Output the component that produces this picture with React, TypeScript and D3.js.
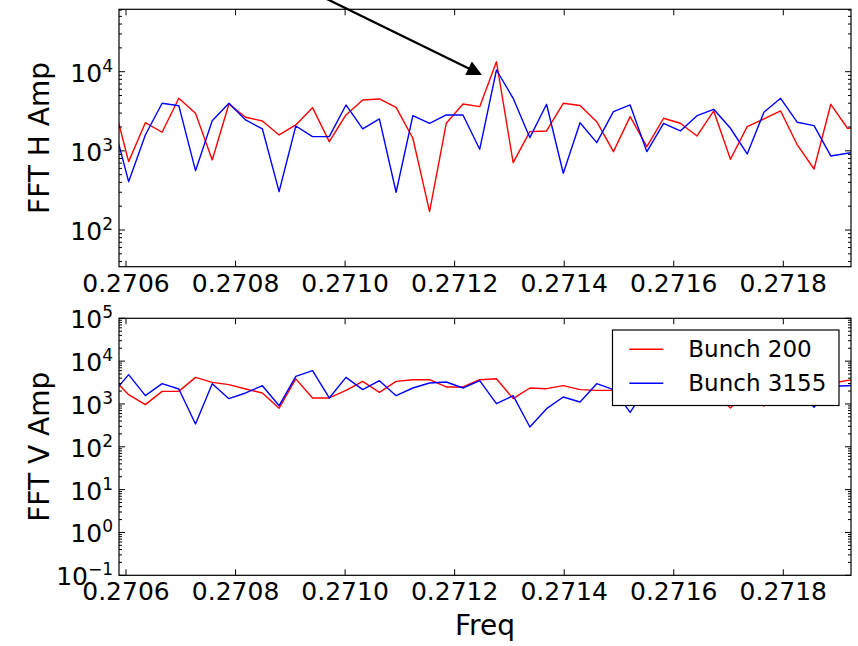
import React, { useEffect, useRef } from 'react';
import * as d3 from 'd3';

// FFT bins (tune units)
const freq = [
  0.2705743, 0.2706048, 0.2706353, 0.2706659, 0.2706964, 0.2707269, 0.2707574, 0.2707879,
  0.2708184, 0.270849, 0.2708795, 0.27091, 0.2709405, 0.2709711, 0.2710016, 0.2710321,
  0.2710626, 0.2710931, 0.2711237, 0.2711542, 0.2711847, 0.2712152, 0.2712457, 0.2712763,
  0.2713068, 0.2713373, 0.2713678, 0.2713983, 0.2714289, 0.2714594, 0.2714899, 0.2715204,
  0.2715509, 0.2715815, 0.271612, 0.2716425, 0.271673, 0.2717035, 0.2717341, 0.2717646,
  0.2717951, 0.2718256, 0.2718561, 0.2718867, 0.2719172, 0.2719477,
];

const hAmp200 = [
  4800, 731, 2270, 1718, 4615, 2985, 768, 3910, 2656, 2386, 1588, 2123, 3512, 1307, 2840, 4395,
  4520, 3550, 1442, 171, 2230, 3910, 3614, 13370, 710, 1747, 1783, 3990, 3744, 2337, 977, 2703,
  1130, 2580, 2230, 1542, 3190, 783, 2020, 2530, 3190, 1187, 590, 3875, 1930, 1900,
];
const hAmp3155 = [
  2600, 408, 1588, 3990, 3720, 562, 2405, 3990, 2455, 1890, 305, 2062, 1511, 1511, 3800, 1890,
  2530, 300, 2783, 2230, 2840, 2840, 1047, 10500, 4615, 1468, 3875, 521, 2263, 1270, 3126, 3800,
  977, 2230, 1783, 2783, 3350, 1930, 914, 3070, 4615, 2296, 2080, 862, 933, 1000,
];
const vAmp200 = [
  4110, 1650, 963, 1967, 1967, 4180, 3190, 2820, 2240, 1806, 798, 3855, 1380, 1380, 2075, 3365,
  1866, 3365, 3690, 3690, 2494, 2494, 3690, 3890, 1330, 2360, 2275, 2673, 2158, 2075, 2075, 2200,
  2100, 2000, 2300, 2100, 1900, 800, 2000, 890, 2400, 2600, 2800, 3000, 3556, 3700,
];
const vAmp3155 = [
  1675, 4830, 1563, 2980, 2240, 341, 2980, 1330, 1806, 2673, 912, 4405, 5985, 1380, 4180, 2158,
  3500, 1563, 2360, 3090, 3260, 2360, 3500, 1016, 1563, 290, 777, 1456, 1113, 2980, 2158, 637,
  2500, 2200, 2800, 2600, 2300, 2100, 2700, 2400, 2200, 2500, 840, 2600, 2673, 2800,
];

const xTickValues = [0.2706, 0.2708, 0.271, 0.2712, 0.2714, 0.2716, 0.2718];
const xTickLabels = ['0.2706', '0.2708', '0.2710', '0.2712', '0.2714', '0.2716', '0.2718'];
const hExponents = [2, 3, 4];
const vExponents = [-1, 0, 1, 2, 3, 4, 5];
const seriesNames = ['Bunch 200', 'Bunch 3155'];
const seriesColors = ['#ff0000', '#0000ff'];
const peakFreq = 0.27125;
const peakAmp = 9100;

const W = 858;
const H = 646;
const FONT = 'DejaVu Sans';
const left = 119;
const right = 851;

const App = () => {
  const svgRef = useRef<SVGSVGElement>(null);

  useEffect(() => {
    const svg = d3.select(svgRef.current);
    svg.selectAll('*').remove();

    const x = d3.scaleLinear().domain([0.2705872, 0.2719236]).range([left, right]);

    const drawPanel = (id: string, top: number, bottom: number, yScale: any, exps: number[], ylabel: string, series: number[][]) => {
      const g = svg.append('g');
      svg.append('defs').append('clipPath').attr('id', id)
        .append('rect').attr('x', left).attr('y', top).attr('width', right - left).attr('height', bottom - top);

      const line = d3.line<number>()
        .x((d, i) => x(freq[i]))
        .y((d) => yScale(d));

      series.forEach((s, k) => {
        g.append('path')
          .attr('d', line(s))
          .attr('fill', 'none')
          .attr('stroke', seriesColors[k])
          .attr('stroke-width', 1.4)
          .attr('stroke-linejoin', 'round')
          .attr('clip-path', `url(#${id})`);
      });

      // x ticks, inward on bottom and top
      xTickValues.forEach((v, i) => {
        const px = x(v);
        g.append('line').attr('x1', px).attr('x2', px).attr('y1', bottom).attr('y2', bottom - 6).attr('stroke', '#000');
        g.append('line').attr('x1', px).attr('x2', px).attr('y1', top).attr('y2', top + 6).attr('stroke', '#000');
        g.append('text')
          .attr('x', px).attr('y', bottom + 25)
          .attr('text-anchor', 'middle')
          .attr('font-family', FONT).attr('font-size', 25)
          .attr('fill', '#000')
          .text(xTickLabels[i]);
      });

      // y minor ticks (log)
      const [d0, d1] = yScale.domain();
      for (let e = Math.floor(Math.log10(d0)); e <= Math.ceil(Math.log10(d1)); e++) {
        for (let m = 2; m <= 9; m++) {
          const v = m * Math.pow(10, e);
          if (v < d0 || v > d1) continue;
          const py = yScale(v);
          g.append('line').attr('x1', left).attr('x2', left + 3).attr('y1', py).attr('y2', py).attr('stroke', '#000');
          g.append('line').attr('x1', right).attr('x2', right - 3).attr('y1', py).attr('y2', py).attr('stroke', '#000');
        }
      }

      // y major ticks + labels
      exps.forEach((e) => {
        const py = yScale(Math.pow(10, e));
        g.append('line').attr('x1', left).attr('x2', left + 6).attr('y1', py).attr('y2', py).attr('stroke', '#000');
        g.append('line').attr('x1', right).attr('x2', right - 6).attr('y1', py).attr('y2', py).attr('stroke', '#000');
        const t = g.append('text')
          .attr('x', left - 6).attr('y', py + 10)
          .attr('text-anchor', 'end')
          .attr('font-family', FONT).attr('font-size', 25)
          .attr('fill', '#000');
        t.append('tspan').text('10');
        t.append('tspan').attr('dy', -10).attr('font-size', 17).text(e < 0 ? `\u2212${-e}` : `${e}`);
      });

      // spines
      g.append('rect')
        .attr('x', left).attr('y', top)
        .attr('width', right - left).attr('height', bottom - top)
        .attr('fill', 'none').attr('stroke', '#000').attr('stroke-width', 1.2);

      g.append('text')
        .attr('transform', `translate(49,${(top + bottom) / 2}) rotate(-90)`)
        .attr('text-anchor', 'middle')
        .attr('font-family', FONT).attr('font-size', 28)
        .attr('fill', '#000')
        .text(ylabel);

      return g;
    };

    const yTop = d3.scaleLog().domain([34.4, 61400]).range([266.7, 9.3]);
    const yBot = d3.scaleLog().domain([0.1, 1e5]).range([575.3, 318.3]);

    drawPanel('clipH', 9.3, 266.7, yTop, hExponents, 'FFT H Amp', [hAmp200, hAmp3155]);
    const gb = drawPanel('clipV', 318.3, 575.3, yBot, vExponents, 'FFT V Amp', [vAmp200, vAmp3155]);

    // x label
    svg.append('text')
      .attr('x', (left + right) / 2).attr('y', 635)
      .attr('text-anchor', 'middle')
      .attr('font-family', FONT).attr('font-size', 28)
      .attr('fill', '#000')
      .text('Freq');

    // legend (upper right of bottom panel)
    const lx = right - 12 - 226.5;
    const ly = 318.3 + 11.7;
    const legend = gb.append('g');
    legend.append('rect')
      .attr('x', lx).attr('y', ly).attr('width', 226.5).attr('height', 75.5)
      .attr('fill', '#fff').attr('stroke', '#000').attr('stroke-width', 1.2);
    seriesNames.forEach((name, k) => {
      const yy = ly + 19.3 + k * 34;
      legend.append('line')
        .attr('x1', lx + 16.8).attr('x2', lx + 50.8).attr('y1', yy).attr('y2', yy)
        .attr('stroke', seriesColors[k]).attr('stroke-width', 1.4);
      legend.append('text')
        .attr('x', lx + 75.8).attr('y', yy + 7.5)
        .attr('font-family', FONT).attr('font-size', 23)
        .attr('fill', '#000')
        .text(name);
    });

    // annotation arrow pointing at the peak
    const tipX = x(peakFreq);
    const tipY = yTop(peakAmp);
    const dx = 153.3, dy = 75;
    const len = Math.hypot(dx, dy);
    const ux = dx / len, uy = dy / len;
    const nx = -uy, ny = ux;
    const headLen = 15, headW = 7.5;
    const bx = tipX - ux * headLen, by = tipY - uy * headLen;
    svg.append('line')
      .attr('x1', tipX - ux * 200).attr('y1', tipY - uy * 200)
      .attr('x2', bx + ux * 2).attr('y2', by + uy * 2)
      .attr('stroke', '#000').attr('stroke-width', 2.3);
    svg.append('polygon')
      .attr('points', [
        [tipX, tipY],
        [bx + nx * headW, by + ny * headW],
        [bx - nx * headW, by - ny * headW],
      ].map((p) => p.join(',')).join(' '))
      .attr('fill', '#000');
  }, []);

  return (
    <svg
      ref={svgRef}
      width={W}
      height={H}
      style={{ position: 'absolute', left: 0, top: 0, background: '#fff' }}
    />
  );
};

export default App;
